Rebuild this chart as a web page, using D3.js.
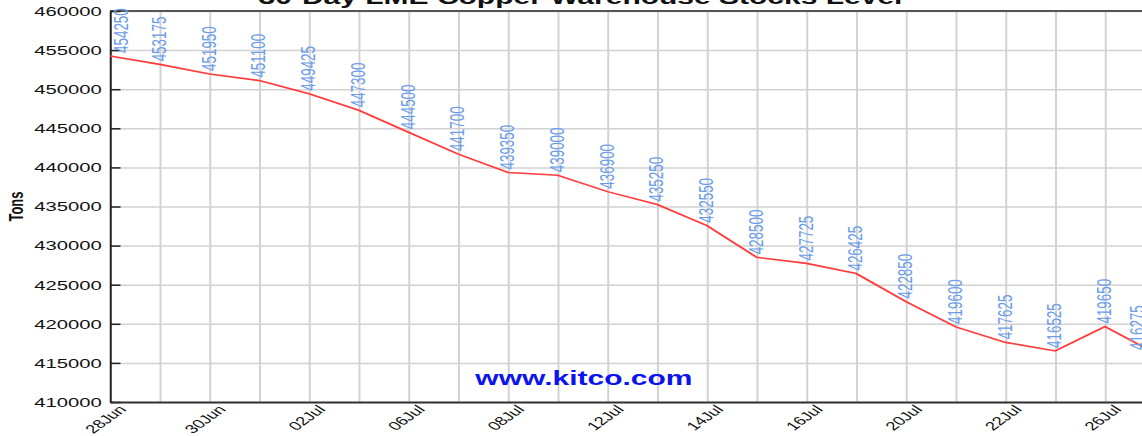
<!DOCTYPE html>
<html>
<head>
<meta charset="utf-8">
<script src="https://cdn.jsdelivr.net/npm/d3@7"></script>
<style>
    html, body { margin: 0; padding: 0; background: #fff; overflow: hidden; }
    svg { display: block; }
    text { font-family: "Liberation Sans", Arial, sans-serif; }
</style>
</head>
<body>
<div id="chart"></div>
<script>
// (DATA) trading days, stock levels and the labelled dates
var dates = ["28Jun", "29Jun", "30Jun", "01Jul", "02Jul", "05Jul", "06Jul", "07Jul", "08Jul", "09Jul", "12Jul",
    "13Jul", "14Jul", "15Jul", "16Jul", "19Jul", "20Jul", "21Jul", "22Jul", "23Jul", "26Jul", "27Jul"];
var stocks = [454250, 453175, 451950, 451100, 449425, 447300, 444500, 441700, 439350, 439000, 436900,
    435250, 432550, 428500, 427725, 426425, 422850, 419600, 417625, 416525, 419650, 416275];
var tickLabels = ["28Jun", "30Jun", "02Jul", "06Jul", "08Jul", "12Jul", "14Jul", "16Jul", "20Jul", "22Jul", "26Jul"];
var yTicks = d3.range(410000, 460001, 5000);

function init() {
    // the picture is a horizontally stretched chart, so draw in a narrower space and stretch it
    var w = 1142;
    var h = 436;
    var stretch = 1.5;
    var vw = w / stretch;

    var left = 110 / stretch;
    var step = 49.75 / stretch;
    var top = 11;
    var bottom = 402;
    var right = left + step * (dates.length - 1);

    var svg = d3.select("#chart")
        .append("svg")
        .attr("width", w)
        .attr("height", h)
        .attr("viewBox", "0 0 " + vw + " " + h)
        .attr("preserveAspectRatio", "none");

    // (SCALES)
    var xScale = d3.scalePoint()
        .domain(dates)
        .range([left, right]);

    var yScale = d3.scaleLinear()
        .domain([410000, 460000])
        .range([bottom, top]);

    // (GRID)
    svg.append("g")
        .attr("class", "grid")
        .attr("transform", "translate(0," + bottom + ")")
        .call(d3.axisBottom(xScale).tickSize(-(bottom - top)).tickFormat(""))
        .call(function(g) {
            g.select(".domain").remove();
            g.selectAll("line").attr("stroke", "#d2d2d2").attr("stroke-width", 1.3);
        });

    svg.append("g")
        .attr("class", "grid")
        .attr("transform", "translate(" + left + ",0)")
        .call(d3.axisLeft(yScale).tickValues(yTicks).tickSize(-(vw - left + 20)).tickFormat(""))
        .call(function(g) {
            g.select(".domain").remove();
            g.selectAll("line").attr("stroke", "#d2d2d2").attr("stroke-width", 1.5);
        });

    // top border
    svg.append("line")
        .attr("x1", left).attr("x2", vw + 5)
        .attr("y1", top).attr("y2", top)
        .attr("stroke", "#555").attr("stroke-width", 2);

    // (Y-AXIS) ticks point into the plot
    svg.append("g")
        .attr("transform", "translate(" + left + ",0)")
        .call(d3.axisLeft(yScale).tickValues(yTicks).tickSizeInner(-7).tickSizeOuter(0).tickPadding(5.5)
            .tickFormat(d3.format("d")))
        .call(function(g) {
            g.select(".domain").attr("stroke", "#222").attr("stroke-width", 1.3);
            g.selectAll("line").attr("stroke", "#222").attr("stroke-width", 1.5);
            g.selectAll("text").attr("font-size", "13.5px").attr("fill", "#111")
                .attr("font-family", "'Liberation Sans', Arial, sans-serif");
        });

    // (X-AXIS)
    svg.append("g")
        .attr("transform", "translate(0," + bottom + ")")
        .call(d3.axisBottom(xScale).tickValues(tickLabels).tickSize(0).tickFormat(""))
        .call(function(g) {
            g.select(".domain").attr("stroke", "#333").attr("stroke-width", 2);
        });

    svg.append("g")
        .selectAll("text")
        .data(tickLabels)
        .enter()
        .append("text")
        .attr("transform", function(d) {
            return "translate(" + (xScale(d) + 11.5) + "," + (bottom + 8) + ") rotate(-47)";
        })
        .attr("text-anchor", "end")
        .attr("font-size", "12.2px")
        .attr("fill", "#111")
        .text(function(d) { return d; });

    // (Y LABEL)
    svg.append("text")
        .attr("transform", "translate(15.3," + ((top + bottom) / 2) + ") rotate(-90)")
        .attr("text-anchor", "middle")
        .attr("font-size", "13px")
        .attr("font-weight", "bold")
        .attr("fill", "#111")
        .text("Tons");

    // (TITLE) mostly cut off at the top edge
    svg.append("text")
        .attr("x", 387)
        .attr("y", 4)
        .attr("text-anchor", "middle")
        .attr("font-size", "20px")
        .attr("font-weight", "bold")
        .attr("fill", "#111")
        .text("30-Day LME Copper Warehouse Stocks Level");

    // (WATERMARK)
    svg.append("text")
        .attr("x", 389.3)
        .attr("y", 385)
        .attr("text-anchor", "middle")
        .attr("font-size", "20px")
        .attr("font-weight", "bold")
        .attr("fill", "#0a14ee")
        .text("www.kitco.com");

    // (LINE)
    var line = d3.line()
        .x(function(d, i) { return xScale(dates[i]); })
        .y(function(d) { return yScale(d); });

    svg.append("path")
        .datum(stocks)
        .attr("d", line)
        .attr("fill", "none")
        .attr("stroke", "#ff3b3b")
        .attr("stroke-width", 1.6);

    // (VALUE LABELS) vertical, sitting just above each point, kept inside the visible area
    svg.append("g")
        .selectAll("text")
        .data(stocks)
        .enter()
        .append("text")
        .attr("transform", function(d, i) {
            var bx = Math.max(xScale(dates[i]) + 4, left + 12);
            bx = Math.min(bx, vw + 1);
            return "translate(" + bx + "," + (yScale(d) - 3) + ") rotate(-90)";
        })
        .attr("font-size", "13.4px")
        .attr("fill", "#6b9ce9")
        .text(function(d) { return d; });
}

window.onload = init;
</script>
</body>
</html>
